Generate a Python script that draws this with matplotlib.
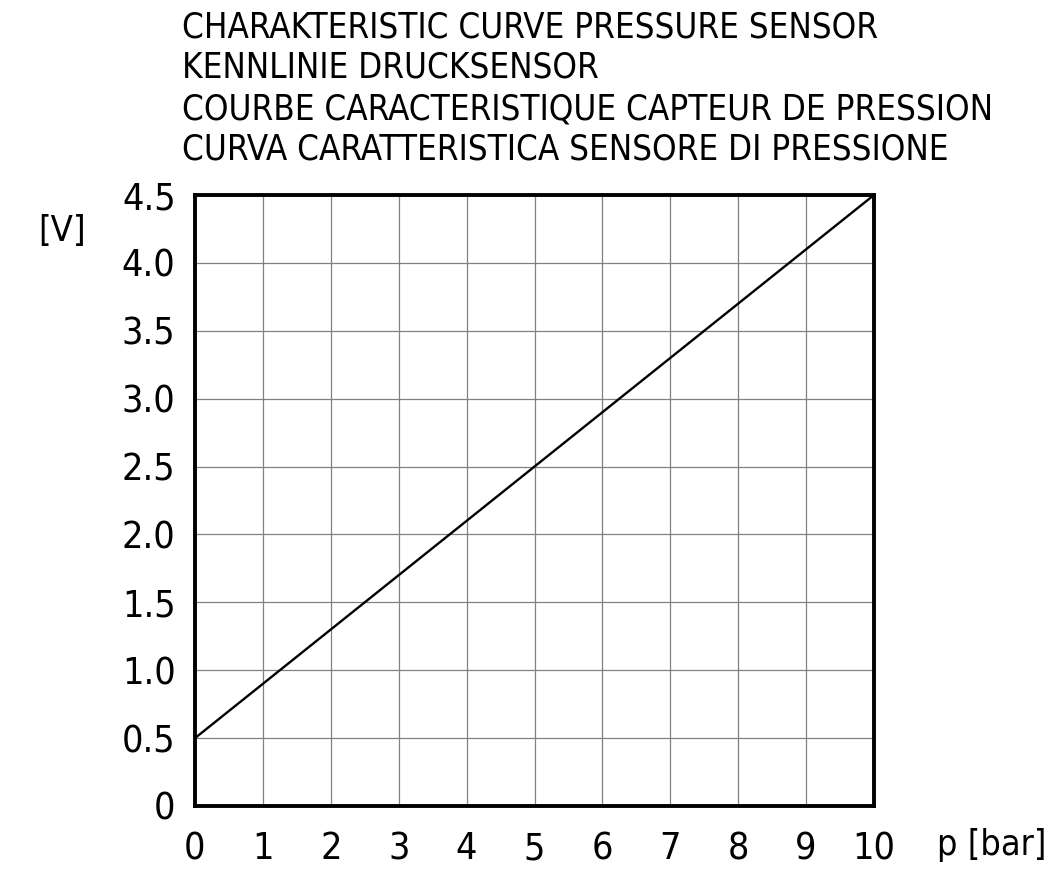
import matplotlib
matplotlib.use("Agg")
import matplotlib.pyplot as plt
from matplotlib import font_manager
from matplotlib.font_manager import FontProperties

pressure_bar = [0, 10]
voltage_v = [0.5, 4.5]
x_ticks = [0, 1, 2, 3, 4, 5, 6, 7, 8, 9, 10]
y_ticks = [0, 0.5, 1.0, 1.5, 2.0, 2.5, 3.0, 3.5, 4.0, 4.5]
y_tick_labels = ["0", "0.5", "1.0", "1.5", "2.0", "2.5", "3.0", "3.5", "4.0", "4.5"]
title_lines = [
    "CHARAKTERISTIC CURVE PRESSURE SENSOR",
    "KENNLINIE DRUCKSENSOR",
    "COURBE CARACTERISTIQUE CAPTEUR DE PRESSION",
    "CURVA CARATTERISTICA SENSORE DI PRESSIONE",
]
title_y_px = [28, 68, 109, 149]

plt.rcParams["font.family"] = ["DejaVu Sans"]
cond = FontProperties(family="DejaVu Sans", stretch="condensed")
try:
    fpath = font_manager.findfont(cond, fallback_to_default=True)
    if "ondensed" in fpath:
        plt.rcParams["font.stretch"] = "condensed"
    else:
        cond = FontProperties(family="DejaVu Sans")
except Exception:
    cond = FontProperties(family="DejaVu Sans")

fig = plt.figure(figsize=(10.51, 8.75), dpi=100)
ax = fig.add_axes([195 / 1051, 69 / 875, 679 / 1051, 611 / 875])
ax.plot(pressure_bar, voltage_v, color="black", lw=1.7, zorder=3)
ax.set_xlim(0, 10)
ax.set_ylim(0, 4.5)
ax.set_xticks(x_ticks)
ax.set_yticks(y_ticks)
ax.set_yticklabels(y_tick_labels)
ax.grid(True, color="#808080", lw=0.9)
for s in ax.spines.values():
    s.set_linewidth(2.8)
    s.set_color("black")
ax.tick_params(length=0, labelsize=27, pad=14)
ax.tick_params(axis="x", pad=18)
for lab in ax.get_xticklabels() + ax.get_yticklabels():
    lab.set_fontproperties(cond.copy())
    lab.set_fontsize(27)

renderer = fig.canvas.get_renderer()

probe = fig.text(0, 0, title_lines[2], fontproperties=cond.copy(), fontsize=25)
w = probe.get_window_extent(renderer).width
probe.remove()
tsize = min(25, 25 * 813 / w)
for s, yp in zip(title_lines, title_y_px):
    fig.text(182 / 1051, 1 - yp / 875, s, fontproperties=cond.copy(),
             fontsize=tsize, ha="left", va="center")

fig.text(62 / 1051, 1 - 231 / 875, "[V]", fontproperties=cond.copy(), fontsize=26,
         ha="center", va="center")
t = fig.text(937 / 1051, 1 - 845 / 875, "p [bar]", fontproperties=cond.copy(),
             fontsize=26, ha="left", va="center")
tw = t.get_window_extent(renderer).width
if tw > 110:
    t.set_fontsize(26 * 110 / tw)

fig.savefig("out.png", dpi=100)
